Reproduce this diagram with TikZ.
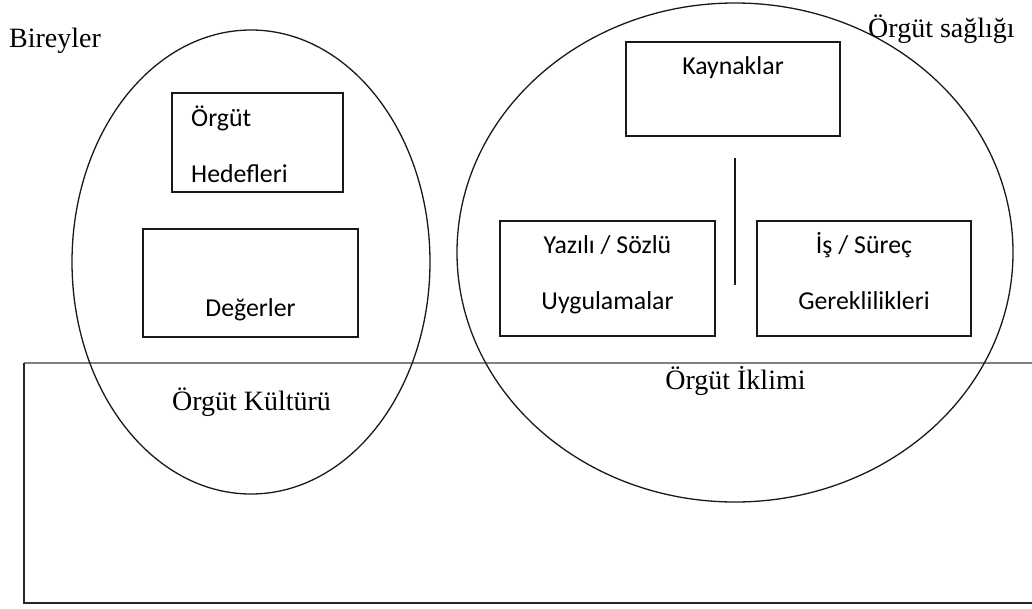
\documentclass[tikz,border=0pt]{standalone}
\usepackage{fontspec}
\setmainfont{Liberation Serif}
\newfontfamily\calibri{Carlito}
\begin{document}
\begin{tikzpicture}[x=1pt,y=-1pt,
  serif/.style={font=\fontsize{28}{34}\selectfont, anchor=base, inner sep=0pt},
  boxtext/.style={font=\calibri\fontsize{25.8}{31}\selectfont, anchor=base, inner sep=0pt},
  boxshape/.style={draw=black!90, line width=1.4pt, inner sep=0pt},
  oval/.style={draw=black!90, line width=1.3pt, ellipse}]
\useasboundingbox (0,0) rectangle (1032,608);
% outer rectangle
\coordinate (rtl) at (24,363);
\coordinate (rtr) at (1032,363);
\coordinate (rbl) at (24,603);
\coordinate (rbr) at (1032,603);
\draw[draw=black!50, line width=1.3pt] (rtr) -- (rtl);
\draw[draw=black!85, line width=1.3pt] (rtl) -- (rbl) -- (rbr);
% ellipses
\draw[draw=black!90, line width=1.3pt] (251,262) ellipse [x radius=179, y radius=232];
\draw[draw=black!90, line width=1.3pt] (735,252.5) ellipse [x radius=278, y radius=249.5];
% boxes
\node[boxshape, minimum width=171pt, minimum height=99pt] (hed) at (257.5,142.5) {};
\node[boxshape, minimum width=215pt, minimum height=108pt] (deg) at (250.5,283) {};
\node[boxshape, minimum width=214pt, minimum height=94pt] (kay) at (733,89) {};
\node[boxshape, minimum width=215pt, minimum height=115pt] (yaz) at (607.5,278.5) {};
\node[boxshape, minimum width=214pt, minimum height=115pt] (isr) at (864,278.5) {};
% texts in boxes
\node[boxtext, anchor=base west] (t1) at (191,126) {Örgüt};
\node[boxtext, anchor=base west] (t2) at (191,182) {Hedefleri};
\node[boxtext] (t3) at (250.5,316) {Değerler};
\node[boxtext] (t4) at (733,74) {Kaynaklar};
\node[boxtext] (t5) at (607.5,253) {Yazılı / Sözlü};
\node[boxtext] (t6) at (607.5,309) {Uygulamalar};
\node[boxtext] (t7) at (864,253) {İş / Süreç};
\node[boxtext] (t8) at (864,309) {Gereklilikleri};
% vertical line
\coordinate (vt) at (735,158);
\coordinate (vb) at (735,285);
\draw[draw=black!90, line width=1.4pt] (vt) -- (vb);
% serif labels
\node[serif, anchor=base west] (bir) at (9,47) {Bireyler};
\node[serif, anchor=base west] (sag) at (868,37) {Örgüt sağlığı};
\node[serif] (kul) at (251.5,410) {Örgüt Kültürü};
\node[serif] (ikl) at (735.5,389) {Örgüt İklimi};
\end{tikzpicture}
\end{document}
